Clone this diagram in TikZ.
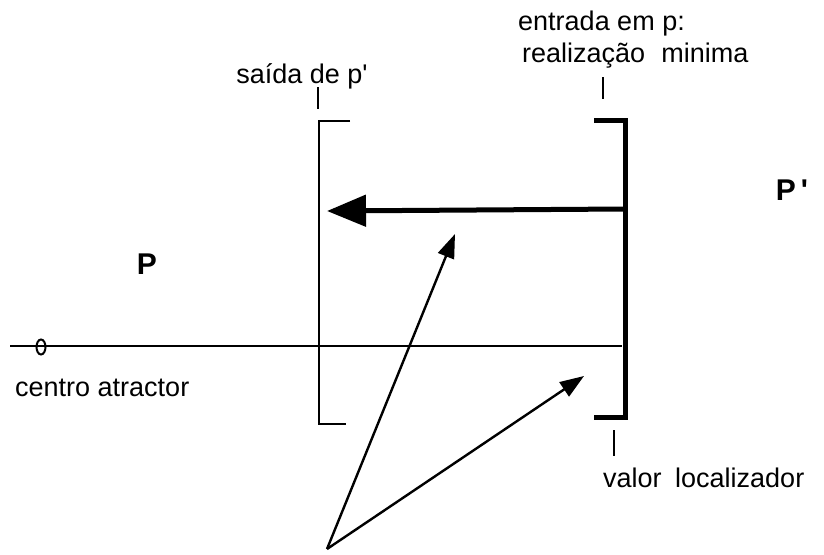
\documentclass[tikz,border=0pt]{standalone}
\usepackage{fontspec}
\setmainfont{Liberation Sans}
\usetikzlibrary{arrows.meta,shapes.geometric}
\begin{document}
\begin{tikzpicture}[x=1pt,y=-1pt,
  lbl/.style={font=\fontsize{27}{30}\selectfont, inner sep=0pt},
  bigp/.style={font=\fontsize{30}{32}\selectfont\bfseries, inner sep=0pt},
  fine/.style={line width=1.8pt},
  heavy/.style={line width=5pt, miter limit=10},
  tick/.style={line width=2.8pt},
  arr/.style={line width=2.4pt, -{Triangle[length=24pt,width=17pt]}},
  bigarr/.style={line width=5pt, -{Triangle[length=39pt,width=31pt]}}]
\useasboundingbox (0,0) rectangle (824,554);

% labels
\node[lbl, anchor=west] (entrada) at (518,24) {entrada em p:};
\node[lbl, anchor=west] (realiz) at (522,56) {realização\hspace{0.6em}minima};
\node[lbl] (saida) at (302,76) {saída de p\textquotesingle};
\node[bigp] (Pp) at (792,190) {P\,\textquotesingle};
\node[bigp] (P) at (147,264) {P};
\node[lbl, anchor=west] (centro) at (15,388) {centro atractor};
\node[lbl, anchor=west] (valor) at (603,478) {valor\hspace{0.5em}localizador};

% ticks
\coordinate (t1a) at (318,87);
\coordinate (t1b) at (318,109);
\coordinate (t2a) at (603,77);
\coordinate (t2b) at (603,99);
\coordinate (t3a) at (614,430);
\coordinate (t3b) at (614,456);
\draw[tick] (t1a) -- (t1b);
\draw[tick] (t2a) -- (t2b);
\draw[tick] (t3a) -- (t3b);

% left bracket (thin)
\coordinate (lb1) at (350,121);
\coordinate (lb2) at (319,121);
\coordinate (lb3) at (319,424);
\coordinate (lb4) at (346,424);
\draw[fine] (lb1) -- (lb2) -- (lb3) -- (lb4);

% right bracket (heavy)
\coordinate (rb1) at (594,120);
\coordinate (rb2) at (625,120);
\coordinate (rb3) at (625,417);
\coordinate (rb4) at (594,417);
\draw[heavy] (rb1) -- (rb2) -- (rb3) -- (rb4);

% axis line with attractor centre
\coordinate (ax1) at (10,346);
\coordinate (ax2) at (622,346);
\draw[fine] (ax1) -- (ax2);
\node[draw, line width=2pt, ellipse, minimum width=9pt, minimum height=15pt, inner sep=0pt] (theta) at (41,347) {};

% big arrow from entrance to exit
\coordinate (ba1) at (625,209);
\coordinate (ba2) at (327,211);
\draw[bigarr] (ba1) -- (ba2);

% two arrows from below
\coordinate (apex) at (327,549);
\coordinate (tipA) at (455,234);
\coordinate (tipB) at (584,376);
\draw[arr] (apex) -- (tipA);
\draw[arr] (apex) -- (tipB);
\end{tikzpicture}
\end{document}
